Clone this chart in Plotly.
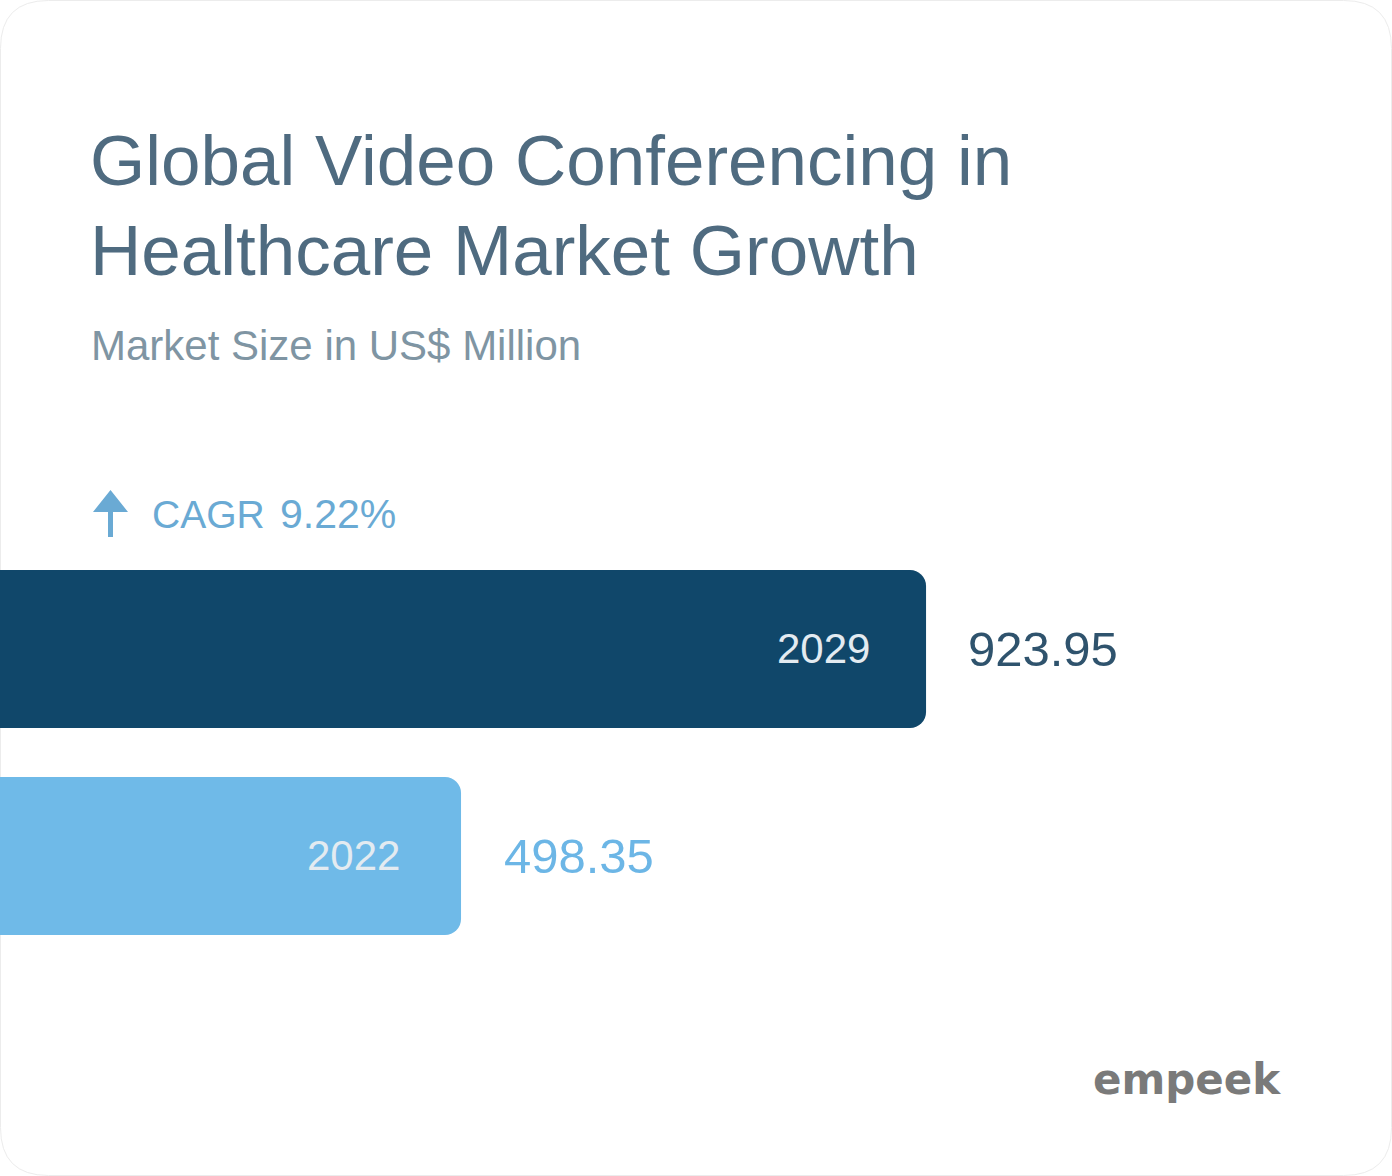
import plotly.graph_objects as go

W, H = 1392, 1176

years = ["2022", "2029"]
values = [498.35, 923.95]
bar_colors = ["#6fbae8", "#10476a"]
value_colors = ["#6cb6e6", "#2f536d"]
year_label_color = "#e3ebf1"

title_lines = ["Global Video Conferencing in", "Healthcare Market Growth"]
subtitle = "Market Size in US$ Million"
cagr_label = "CAGR"
cagr_value = "9.22%"
brand = "empeek"

FONT = "Liberation Sans, Arial, sans-serif"


def px(x):
    return x / W


def py(y):
    return 1 - y / H


fig = go.Figure()
fig.add_trace(go.Bar(
    y=years, x=values, orientation="h",
    marker=dict(color=bar_colors, line=dict(width=0)),
    width=0.763, hoverinfo="skip", showlegend=False,
))

year_shift = [-59, -54]
value_shift = [41, 40]
ann = []
for i, (yr, v, vc) in enumerate(zip(years, values, value_colors)):
    ann.append(dict(x=v, y=i, xref="x", yref="y", text=yr, showarrow=False,
                    xanchor="right", yanchor="middle", xshift=year_shift[i],
                    font=dict(family=FONT, size=42, color=year_label_color)))
    ann.append(dict(x=v, y=i, xref="x", yref="y", text=f"{v:.2f}", showarrow=False,
                    xanchor="left", yanchor="middle", xshift=value_shift[i],
                    font=dict(family=FONT, size=49, color=vc)))

ann.append(dict(x=px(88), y=py(119), xref="paper", yref="paper", text=title_lines[0],
                showarrow=False, xanchor="left", yanchor="top",
                font=dict(family=FONT, size=71, color="#4f6b80")))
ann.append(dict(x=px(88), y=py(209), xref="paper", yref="paper", text=title_lines[1],
                showarrow=False, xanchor="left", yanchor="top",
                font=dict(family=FONT, size=71, color="#4f6b80")))
ann.append(dict(x=px(89), y=py(320), xref="paper", yref="paper", text=subtitle,
                showarrow=False, xanchor="left", yanchor="top",
                font=dict(family=FONT, size=42, color="#7f95a3")))
ann.append(dict(x=px(150), y=py(514), xref="paper", yref="paper", text=cagr_label,
                showarrow=False, xanchor="left", yanchor="middle",
                font=dict(family=FONT, size=39, color="#6aaad4")))
ann.append(dict(x=px(278), y=py(514), xref="paper", yref="paper", text=cagr_value,
                showarrow=False, xanchor="left", yanchor="middle",
                font=dict(family=FONT, size=41, color="#6aaad4")))
ann.append(dict(x=px(1283), y=py(1079), xref="paper", yref="paper", text=brand,
                showarrow=False, xanchor="right", yanchor="middle",
                font=dict(family="DejaVu Sans, sans-serif", size=42, color="#7a7a7a", weight="bold")))

# arrow icon
arrow_path = (f"M {px(93)},{py(512)} L {px(110.5)},{py(490)} L {px(128)},{py(512)} "
              f"L {px(113)},{py(512)} L {px(113)},{py(537)} L {px(108)},{py(537)} "
              f"L {px(108)},{py(512)} Z")
shapes = [dict(type="path", xref="paper", yref="paper", path=arrow_path,
               fillcolor="#6aaad4", line=dict(width=0), layer="above")]

# faint card border with rounded corners
r = 48
rx, ry = r / W, r / H
x0, x1, y0, y1 = px(0.5), px(W - 0.5), py(H - 0.5), py(0.5)
card = (f"M {x0 + rx},{y1} L {x1 - rx},{y1} Q {x1},{y1} {x1},{y1 - ry} "
        f"L {x1},{y0 + ry} Q {x1},{y0} {x1 - rx},{y0} L {x0 + rx},{y0} "
        f"Q {x0},{y0} {x0},{y0 + ry} L {x0},{y1 - ry} Q {x0},{y1} {x0 + rx},{y1} Z")
shapes.append(dict(type="path", xref="paper", yref="paper", path=card,
                   line=dict(color="#ececec", width=1), layer="below"))

fig.update_layout(
    width=W, height=H,
    margin=dict(l=0, r=0, t=0, b=0),
    paper_bgcolor="white", plot_bgcolor="rgba(0,0,0,0)",
    barcornerradius=16,
    xaxis=dict(range=[76.4, 1350.4], visible=False, fixedrange=True),
    yaxis=dict(range=[-1.546, 4.135], visible=False, type="category",
               categoryorder="array", categoryarray=years, fixedrange=True),
    annotations=ann, shapes=shapes,
    showlegend=False,
)

fig.write_html("out.html", config={"displayModeBar": False})
